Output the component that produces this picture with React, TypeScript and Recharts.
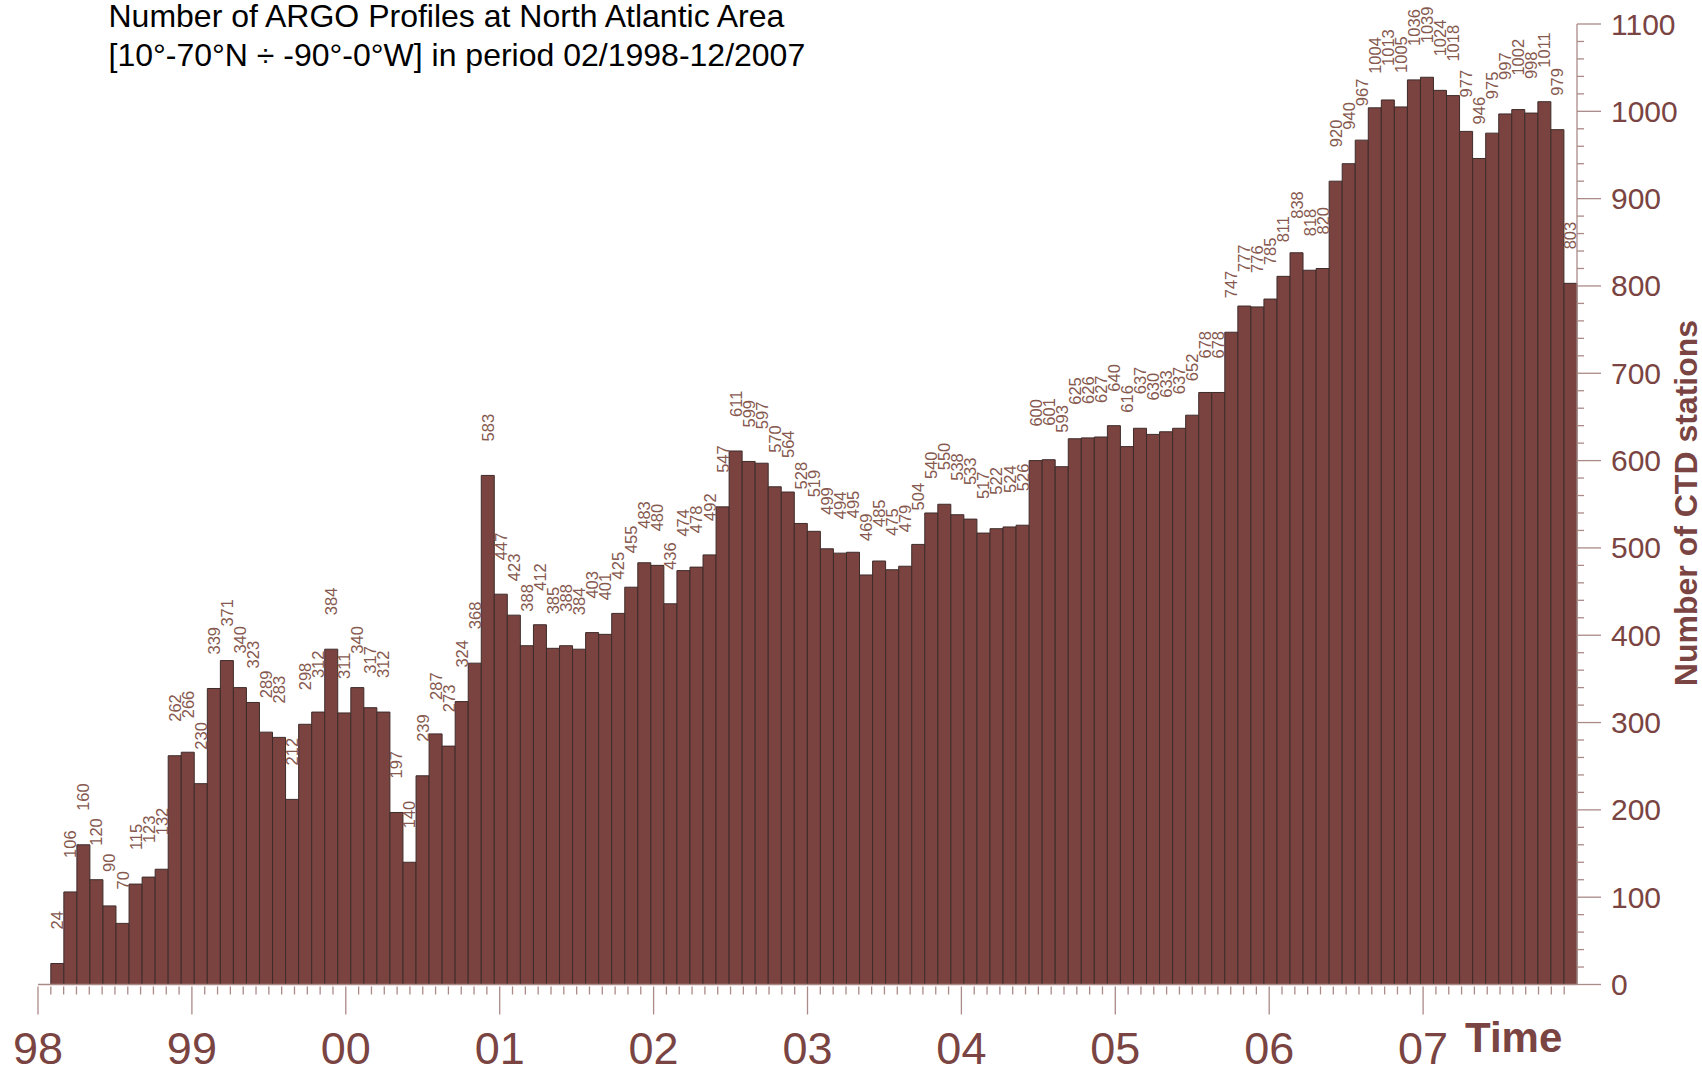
import React from "react";
import { Bar, BarChart, LabelList, XAxis, YAxis } from "recharts";

document.body.style.margin = "0";

// monthly ARGO profile counts, 02/1998 .. 12/2007 (as plotted, 117 bars)
const profileCounts = [
  24, 106, 160, 120, 90, 70, 115, 123, 132, 262, 266,
  230, 339, 371, 340, 323, 289, 283, 212, 298, 312, 384, 311,
  340, 317, 312, 197, 140, 239, 287, 273, 324, 368, 583, 447,
  423, 388, 412, 385, 388, 384, 403, 401, 425, 455, 483, 480,
  436, 474, 478, 492, 547, 611, 599, 597, 570, 564, 528, 519,
  499, 494, 495, 469, 485, 475, 479, 504, 540, 550, 538, 533,
  517, 522, 524, 526, 600, 601, 593, 625, 626, 627, 640, 616,
  637, 630, 633, 637, 652, 678, 678, 747, 777, 776, 785, 811,
  838, 818, 820, 920, 940, 967, 1004, 1013, 1005, 1036, 1039, 1024,
  1018, 977, 946, 975, 997, 1002, 998, 1011, 979, 803,
];

const yearLabels = ["98", "99", "00", "01", "02", "03", "04", "05", "06", "07"];
const monthTicks = Array.from({ length: 120 }, (_, i) => i);
const countTicks = Array.from({ length: 56 }, (_, i) => i * 20);

const data = profileCounts.map((count, idx) => ({ idx, count }));
const monthSlots = monthTicks.map((m) => ({ m }));

const BAR_FILL = "#7a4340";
const BAR_STROKE = "#3e2c2a";
const AXIS = "#ab8a88";
const BROWN = "#7a4442";
const FONT = "'Liberation Sans', Arial, sans-serif";
const MARGIN = { top: 24, right: 0, bottom: 0, left: 38 };

const TimeTick = (props: any) => {
  const { x, y, payload } = props;
  const m = payload.value;
  const major = m % 12 === 0;
  return (
    <g>
      <line x1={x} x2={x} y1={y + 2} y2={y + (major ? 30 : 10)} stroke={AXIS} strokeWidth={1.3} />
      {major && (
        <text x={x} y={y + 79} textAnchor="middle" fontSize={45} fontFamily={FONT} fill={BROWN}>
          {yearLabels[m / 12]}
        </text>
      )}
    </g>
  );
};

const CountTick = (props: any) => {
  const { x, y, payload } = props;
  const v = payload.value;
  const major = v % 100 === 0;
  return (
    <g>
      <line x1={x} x2={x + (major ? 24 : 7)} y1={y} y2={y} stroke={AXIS} strokeWidth={1.3} />
      {major && (
        <text x={x + 34} y={y} dominantBaseline="central" fontSize={30} fontFamily={FONT} fill={BROWN}>
          {v}
        </text>
      )}
    </g>
  );
};

const BarLabel = (props: any) => {
  const { x, y, width, value } = props;
  const cx = Number(x) + Number(width) / 2;
  const ty = Number(y) - 34;
  return (
    <text
      x={cx}
      y={ty}
      transform={`rotate(-90 ${cx} ${ty})`}
      textAnchor="start"
      dominantBaseline="central"
      fontSize={16.5}
      fontFamily={FONT}
      fill="#86594f"
    >
      {value}
    </text>
  );
};

export default function App() {
  return (
    <div style={{ position: "relative", width: 1702, height: 1070, background: "#fff" }}>
      <BarChart
        width={1702}
        height={1070}
        data={data}
        margin={{ ...MARGIN, bottom: 85.5 }}
        barCategoryGap={0}
      >
        <XAxis xAxisId="bars" dataKey="idx" hide height={0} padding={{ left: 12.8, right: 0 }} />
        <YAxis
          orientation="right"
          domain={[0, 1100]}
          allowDataOverflow
          ticks={countTicks}
          interval={0}
          tickLine={false}
          tickSize={0}
          tickMargin={0}
          tick={CountTick}
          axisLine={{ stroke: AXIS, strokeWidth: 1.3 }}
          width={125}
        />
        <Bar
          xAxisId="bars"
          dataKey="count"
          fill={BAR_FILL}
          stroke={BAR_STROKE}
          strokeWidth={1}
          isAnimationActive={false}
        >
          <LabelList dataKey="count" content={BarLabel} />
        </Bar>
      </BarChart>

      {/* time axis: months since Jan 1998 */}
      <div style={{ position: "absolute", left: 0, top: 0, pointerEvents: "none" }}>
        <BarChart width={1702} height={1070} data={monthSlots} margin={MARGIN}>
          <XAxis
            dataKey="m"
            type="number"
            domain={[0, 120]}
            allowDataOverflow
            ticks={monthTicks}
            interval={0}
            tickLine={false}
            tickSize={0}
            tickMargin={0}
            tick={TimeTick}
            axisLine={{ stroke: AXIS, strokeWidth: 1.3 }}
            height={85.5}
          />
          <YAxis orientation="right" domain={[0, 1100]} tick={false} tickLine={false} axisLine={false} width={125} />
        </BarChart>
      </div>

      <svg
        width={1702}
        height={1070}
        style={{ position: "absolute", left: 0, top: 0, pointerEvents: "none" }}
      >
        <text x={108.5} y={27} fontSize={32} fontFamily={FONT} fill="#000">
          Number of ARGO Profiles at North Atlantic Area
        </text>
        <text x={108.5} y={66} fontSize={32} fontFamily={FONT} fill="#000">
          [10°-70°N ÷ -90°-0°W] in period 02/1998-12/2007
        </text>
        <text x={1465} y={1052} fontSize={42} fontWeight="bold" fontFamily={FONT} fill={BROWN}>
          Time
        </text>
        <text
          x={1686}
          y={503}
          transform="rotate(-90 1686 503)"
          textAnchor="middle"
          dominantBaseline="central"
          fontSize={32}
          fontWeight="bold"
          fontFamily={FONT}
          fill={BROWN}
        >
          Number of CTD stations
        </text>
      </svg>
    </div>
  );
}
